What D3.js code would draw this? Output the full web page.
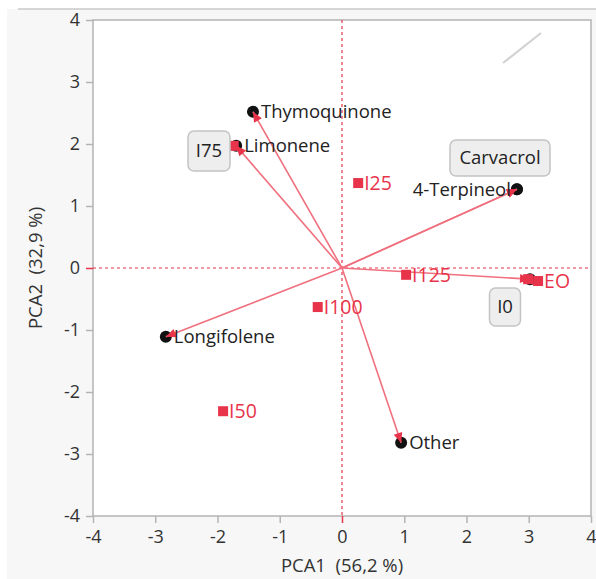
<!DOCTYPE html>
<html><head><meta charset="utf-8">
<script src="https://cdn.jsdelivr.net/npm/d3@7"></script>
<style>body{margin:0;background:#fff;} text{font-family:"Open Sans","Noto Sans",sans-serif;white-space:pre;}</style>
</head><body>
<svg id="c" width="596" height="579"></svg>
<script>
// Loadings (variables)
const loadNames = ["Thymoquinone","Limonene","Carvacrol","4-Terpineol","Longifolene","Other",""];
const loadX = [-1.43,-1.70,2.81,2.81,-2.83,0.95,3.02];
const loadY = [2.52,1.97,1.27,1.27,-1.11,-2.82,-0.18];
// Observations (samples)
const obsNames = ["I25","I125","I100","I50","I75","I0","EO"];
const obsX = [0.26,1.03,-0.39,-1.91,-1.74,2.99,3.15];
const obsY = [1.37,-0.11,-0.63,-2.31,1.97,-0.18,-0.21];
const ticks = [-4,-3,-2,-1,0,1,2,3,4];
const xTitle = "PCA1  (56,2 %)";
const yTitle = "PCA2  (32,9 %)";

const svg = d3.select("#c");
const L=93,R=591,T=20,B=516;
const x = d3.scaleLinear().domain([-4,4]).range([L,R]);
const y = d3.scaleLinear().domain([-4,4]).range([B,T]);
const red="#e8344a", lred="#f0707e", grid="#b4b4b4";

// panel background
svg.append("rect").attr("x",7).attr("y",9).attr("width",589).attr("height",570).attr("fill","#f7f7f7");
svg.append("line").attr("x1",18).attr("x2",596).attr("y1",9).attr("y2",9).attr("stroke","#c8c8c8").attr("stroke-width",1.5);
svg.append("rect").attr("x",L).attr("y",T).attr("width",R-L).attr("height",B-T).attr("fill","#fff").attr("stroke",grid).attr("stroke-width",1.5);

// axes
const fmt = d => String(d);
const ax = svg.append("g").attr("transform",`translate(0,${B})`).call(d3.axisBottom(x).tickValues(ticks).tickSize(7).tickPadding(5).tickFormat(fmt));
const ay = svg.append("g").attr("transform",`translate(${L},0)`).call(d3.axisLeft(y).tickValues(ticks).tickSize(7).tickPadding(6).tickFormat(fmt));
[ax,ay].forEach(g=>{
  g.select(".domain").remove();
  g.selectAll(".tick line").attr("stroke",d=>d===0?red:grid).attr("stroke-width",1.5);
  g.selectAll(".tick text").attr("fill","#333").style("font-size","18px").style("font-family","'Open Sans',sans-serif");
});
ax.selectAll(".tick text").attr("dy","0.85em");
svg.append("text").attr("x",(L+R)/2).attr("y",572).attr("text-anchor","middle").attr("fill","#333").style("font-size","18.5px").text(xTitle);
svg.append("text").attr("transform",`translate(42,${(T+B)/2}) rotate(-90)`).attr("text-anchor","middle").attr("fill","#333").style("font-size","18.5px").text(yTitle);

// zero reference lines
svg.append("line").attr("x1",x(0)).attr("x2",x(0)).attr("y1",T).attr("y2",B).attr("stroke",red).attr("stroke-dasharray","3,3").attr("stroke-width",1.2);
svg.append("line").attr("x1",L).attr("x2",R).attr("y1",y(0)).attr("y2",y(0)).attr("stroke",red).attr("stroke-dasharray","3,3").attr("stroke-width",1.2);

// decorative diagonal
svg.append("line").attr("x1",503).attr("y1",63).attr("x2",541).attr("y2",33).attr("stroke","#d2d2d2").attr("stroke-width",2.2);

// loading circles
loadNames.forEach((n,i)=>{
  svg.append("circle").attr("cx",x(loadX[i])).attr("cy",y(loadY[i])).attr("r",6).attr("fill","#111");
});
// vectors + arrowheads
loadNames.forEach((n,i)=>{
  const x1=x(0),y1=y(0),x2=x(loadX[i]),y2=y(loadY[i]);
  svg.append("line").attr("x1",x1).attr("y1",y1).attr("x2",x2).attr("y2",y2).attr("stroke",lred).attr("stroke-width",1.6);
  const a=Math.atan2(y2-y1,x2-x1), s=10, w=4.5;
  const bx=x2-s*Math.cos(a), by=y2-s*Math.sin(a);
  const pts=[[x2,y2],[bx+w*Math.sin(a),by-w*Math.cos(a)],[bx-w*Math.sin(a),by+w*Math.cos(a)]];
  svg.append("polygon").attr("points",pts.map(p=>p.join(",")).join(" ")).attr("fill",red);
});

// observation squares
obsNames.forEach((n,i)=>{
  svg.append("rect").attr("x",x(obsX[i])-5).attr("y",y(obsY[i])-5).attr("width",10).attr("height",10).attr("fill",red);
});

// labels
const boxed = {"Carvacrol":[500,158,100,36],"I75":[209,151,42,40],"I0":[505,307,31,38]};
function boxLabel(t,fill){
  const b=boxed[t];
  svg.append("rect").attr("x",b[0]-b[2]/2).attr("y",b[1]-b[3]/2).attr("width",b[2]).attr("height",b[3]).attr("rx",6)
    .attr("fill","#eeeeee").attr("stroke","#c4c4c4").attr("stroke-width",1.5);
  svg.append("text").attr("x",b[0]).attr("y",b[1]).attr("dy","0.35em").attr("text-anchor","middle").attr("fill",fill).style("font-size","18.5px").text(t);
}
loadNames.forEach((n,i)=>{
  if(!n) return;
  if(boxed[n]){ boxLabel(n,"#222"); return; }
  if(n==="4-Terpineol"){
    svg.append("text").attr("x",x(loadX[i])-6).attr("y",y(loadY[i])).attr("dy","0.35em").attr("text-anchor","end").attr("fill","#222").style("font-size","18.5px").text(n);
    return;
  }
  svg.append("text").attr("x",x(loadX[i])+8).attr("y",y(loadY[i])).attr("dy","0.35em").attr("fill","#222").style("font-size","18.5px").text(n);
});
obsNames.forEach((n,i)=>{
  if(boxed[n]){ boxLabel(n,"#222"); return; }
  svg.append("text").attr("x",x(obsX[i])+6).attr("y",y(obsY[i])).attr("dy","0.36em").attr("fill",red).style("font-size","19.5px").text(n);
});
</script>
</body></html>
